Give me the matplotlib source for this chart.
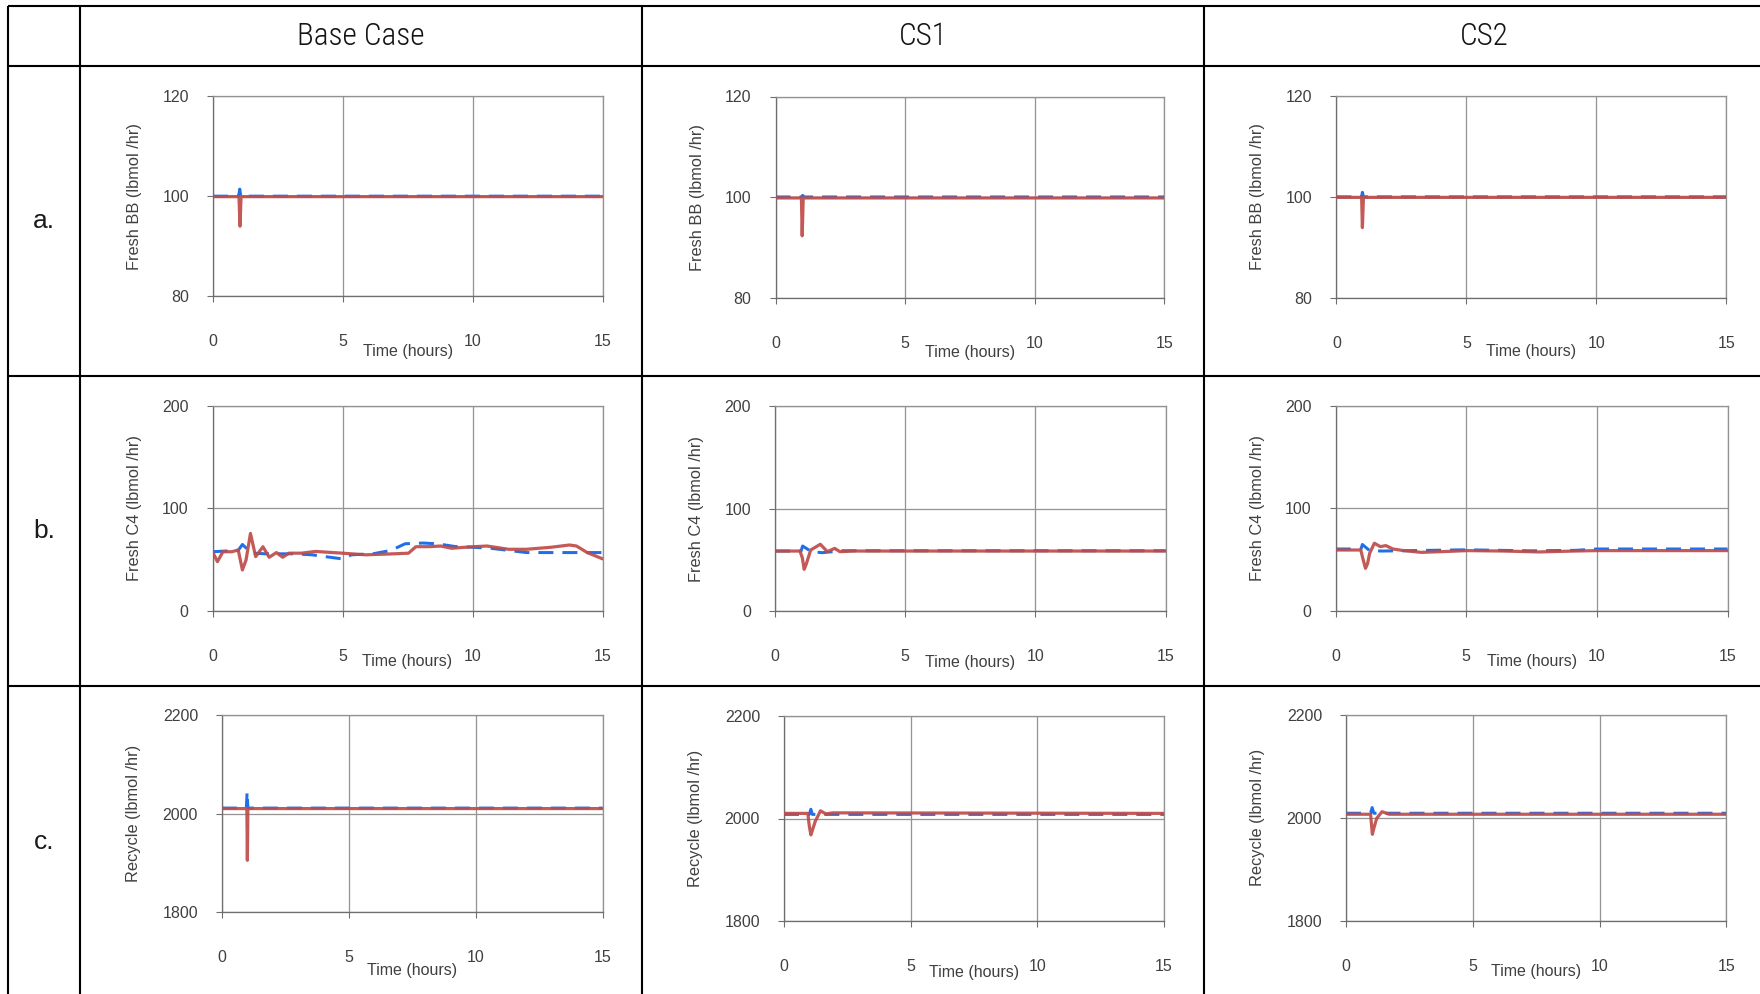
import matplotlib
matplotlib.use("Agg")
import matplotlib.pyplot as plt
from matplotlib import font_manager

W, H, DPI = 1760, 994, 100

# ---------------------------------------------------------------- data
CASES = ["Base Case", "CS1", "CS2"]
ROW_TAGS = ["a.", "b.", "c."]
Y_LABELS = ["Fresh BB (lbmol /hr)", "Fresh C4 (lbmol /hr)", "Recycle (lbmol /hr)"]
Y_TICKS = [[80, 100, 120], [0, 100, 200], [1800, 2000, 2200]]
X_TICKS = [0, 5, 10, 15]
X_LABEL = "Time (hours)"

# a. Fresh BB
BB_BASE_T_RED = [0, 1.00, 1.04, 1.08, 15]
BB_BASE_RED = [99.9, 99.9, 94.0, 99.9, 99.9]
BB_BASE_T_BLUE = [0, 0.99, 1.03, 1.07, 15]
BB_BASE_BLUE = [100.0, 100.0, 101.4, 100.0, 100.0]

BB_CS1_T_RED = [0, 1.00, 1.03, 1.07, 15]
BB_CS1_RED = [99.9, 99.9, 92.4, 99.9, 99.9]
BB_CS1_T_BLUE = [0, 1.00, 1.05, 1.10, 15]
BB_CS1_BLUE = [100.1, 100.1, 100.4, 100.1, 100.1]

BB_CS2_T_RED = [0, 0.97, 1.00, 1.04, 15]
BB_CS2_RED = [99.9, 99.9, 93.9, 99.9, 99.9]
BB_CS2_T_BLUE = [0, 0.97, 1.00, 1.04, 15]
BB_CS2_BLUE = [100.0, 100.0, 100.9, 100.0, 100.0]

# b. Fresh C4
C4_BASE_T_RED = [0, 0.19, 0.40, 0.74, 0.99, 1.15, 1.29, 1.46, 1.66, 1.94, 2.18,
                 2.46, 2.70, 2.94, 3.42, 3.97, 5.0, 5.9, 7.0, 7.54, 7.82, 8.36,
                 8.78, 9.19, 10.0, 10.56, 11.39, 12.07, 13.03, 13.73, 14.0,
                 14.41, 15.0]
C4_BASE_RED = [57.6, 47.9, 57.6, 57.6, 59.3, 39.8, 49.5, 75.5, 52.8, 62.5, 52.2,
               56.8, 52.2, 56.2, 56.2, 57.9, 56.2, 54.6, 55.6, 56.2, 62.5, 62.6,
               63.2, 61.0, 62.5, 63.2, 60.0, 60.0, 62.0, 64.2, 63.2, 56.8, 50.7]
C4_BASE_T_BLUE = [0, 0.99, 1.15, 1.50, 2.05, 3.15, 3.83, 4.52, 5.0, 5.34, 6.17,
                  6.86, 7.41, 8.1, 8.64, 9.33, 10.0, 10.7, 11.39, 12.07, 15]
C4_BASE_BLUE = [57.6, 59.0, 64.7, 56.2, 55.6, 55.6, 54.6, 52.2, 50.6, 54.6, 55.6,
                58.9, 65.4, 66.1, 65.4, 62.7, 62.0, 61.0, 58.9, 56.8, 56.8]

C4_CS1_T_RED = [0, 0.96, 1.05, 1.12, 1.20, 1.37, 1.74, 2.01, 2.29, 2.49, 3.04, 15]
C4_CS1_RED = [58.7, 58.7, 52.0, 40.9, 46.0, 59.7, 65.3, 58.1, 61.3, 58.1, 58.7, 58.7]
C4_CS1_T_BLUE = [0, 1.00, 1.06, 1.40, 1.81, 2.22, 2.60, 15]
C4_CS1_BLUE = [58.7, 58.7, 63.6, 58.1, 57.1, 58.1, 59.0, 59.0]

C4_CS2_T_RED = [0, 0.96, 1.05, 1.14, 1.22, 1.30, 1.48, 1.71, 1.92, 2.19, 2.60,
                3.28, 4.38, 5.0, 6.43, 7.79, 9.16, 10.0, 15]
C4_CS2_RED = [59.3, 59.3, 50.0, 41.4, 46.0, 56.1, 65.9, 62.6, 63.6, 60.3, 58.7,
              57.0, 58.0, 58.7, 58.3, 57.4, 58.3, 58.7, 58.7]
C4_CS2_T_BLUE = [0, 0.97, 1.02, 1.30, 1.78, 5.0, 7.5, 9.2, 10.0, 15]
C4_CS2_BLUE = [60.3, 60.3, 64.7, 58.7, 58.3, 59.5, 58.5, 59.0, 60.3, 60.3]

# c. Recycle
RC_BASE_T_RED = [0, 0.98, 1.00, 1.02, 15]
RC_BASE_RED = [2010, 2010, 1905, 2010, 2010]
RC_BASE_T_BLUE = [0, 0.96, 0.99, 1.02, 15]
RC_BASE_BLUE = [2011, 2011, 2044, 2011, 2011]

RC_CS1_T_RED = [0, 0.94, 1.00, 1.06, 1.14, 1.23, 1.44, 1.65, 1.93, 15]
RC_CS1_RED = [2010, 2010, 1985, 1968, 1980, 1994, 2015, 2009, 2011, 2010]
RC_CS1_T_BLUE = [0, 1.00, 1.06, 1.12, 15]
RC_CS1_BLUE = [2008, 2008, 2018, 2008, 2008]

RC_CS2_T_RED = [0, 0.97, 1.00, 1.04, 1.10, 1.21, 1.42, 1.70, 15]
RC_CS2_RED = [2007, 2007, 1990, 1968, 1980, 1999, 2012, 2007, 2007]
RC_CS2_T_BLUE = [0, 0.97, 1.03, 1.10, 15]
RC_CS2_BLUE = [2009, 2009, 2020, 2009, 2009]

SERIES = [
    [(BB_BASE_T_RED, BB_BASE_RED, BB_BASE_T_BLUE, BB_BASE_BLUE),
     (BB_CS1_T_RED, BB_CS1_RED, BB_CS1_T_BLUE, BB_CS1_BLUE),
     (BB_CS2_T_RED, BB_CS2_RED, BB_CS2_T_BLUE, BB_CS2_BLUE)],
    [(C4_BASE_T_RED, C4_BASE_RED, C4_BASE_T_BLUE, C4_BASE_BLUE),
     (C4_CS1_T_RED, C4_CS1_RED, C4_CS1_T_BLUE, C4_CS1_BLUE),
     (C4_CS2_T_RED, C4_CS2_RED, C4_CS2_T_BLUE, C4_CS2_BLUE)],
    [(RC_BASE_T_RED, RC_BASE_RED, RC_BASE_T_BLUE, RC_BASE_BLUE),
     (RC_CS1_T_RED, RC_CS1_RED, RC_CS1_T_BLUE, RC_CS1_BLUE),
     (RC_CS2_T_RED, RC_CS2_RED, RC_CS2_T_BLUE, RC_CS2_BLUE)],
]

# ---------------------------------------------------------------- layout
# plot-area boxes in pixels: (left, top, right, bottom)
BOXES = [
    [(213, 96, 602.5, 296.3), (775.5, 96.5, 1164.2, 298.4), (1336.4, 96, 1726.4, 297.7)],
    [(212.5, 406, 602.5, 610.7), (775, 406, 1165.7, 611.3), (1335.7, 406, 1727.5, 610.7)],
    [(222, 715, 602.5, 912), (784, 716, 1164, 921), (1346, 715, 1726.4, 920.7)],
]
YLABEL_OFF = [78.5, 78.5, 88.5]      # px left of the plot area
XLABEL_OFF = [[55, 54, 54], [51, 51, 51], [59, 52, 51]]  # px below the plot area

TABLE_X = [8, 80, 642, 1204]
TABLE_Y = [6, 65.5, 376, 686]
TABLE_RIGHT, TABLE_BOTTOM = 1764, 998

RED = "#BF4C49"
BLUE = "#1F6FEA"
GRID = "#959595"
FRAME = "#929292"
AXIS = "#6E6E6E"
TXT = "#404040"

PX = 72.0 / DPI  # points per pixel

AVAILABLE = {f.name for f in font_manager.fontManager.ttflist}


def pick(candidates, fallback):
    for name in candidates:
        if name in AVAILABLE:
            return name
    return fallback


SANS = pick(["Liberation Sans", "Arimo"], "DejaVu Sans")
NARROW = pick(["Roboto Condensed", "Liberation Sans Narrow", "Archivo Narrow",
               "PT Sans Narrow", "Sofia Sans Condensed"], SANS)
HEAD_SIZE = 22.5 if NARROW != SANS else 19.5
HEAD_WEIGHT = "light" if NARROW == "Roboto Condensed" else "normal"
plt.rcParams["font.family"] = [SANS, "DejaVu Sans"]

fig = plt.figure(figsize=(W / DPI, H / DPI), dpi=DPI)
fig.patch.set_facecolor("white")

# table frame
bg = fig.add_axes([0, 0, 1, 1], zorder=0)
bg.set_xlim(0, W)
bg.set_ylim(H, 0)
bg.axis("off")
for x in TABLE_X:
    bg.plot([x, x], [TABLE_Y[0], TABLE_BOTTOM], color="black", lw=2.1 * PX,
            solid_capstyle="butt")
for y in TABLE_Y:
    bg.plot([TABLE_X[0], TABLE_RIGHT], [y, y], color="black", lw=2.1 * PX,
            solid_capstyle="butt")

# header row and row tags
for j, name in enumerate(CASES):
    left = TABLE_X[j + 1]
    right = TABLE_X[j + 2] if j + 2 < len(TABLE_X) else TABLE_RIGHT
    bg.text((left + right) / 2, (TABLE_Y[0] + TABLE_Y[1]) / 2 + 1, name,
            ha="center", va="center", fontsize=HEAD_SIZE, family=NARROW,
            weight=HEAD_WEIGHT, color="#141414")
row_edges = TABLE_Y[1:] + [TABLE_BOTTOM]
for i, tag in enumerate(ROW_TAGS):
    bg.text((TABLE_X[0] + TABLE_X[1]) / 2, (row_edges[i] + row_edges[i + 1]) / 2,
            tag, ha="center", va="center", fontsize=19, color="#1A1A1A")

# chart panels
for i in range(3):
    for j in range(3):
        l, t, r, b = BOXES[i][j]
        ax = fig.add_axes([l / W, 1 - b / H, (r - l) / W, (b - t) / H], zorder=2)
        ax.set_facecolor("white")
        t_red, v_red, t_blue, v_blue = SERIES[i][j]
        ax.plot(t_blue, v_blue, color=BLUE, lw=3.0 * PX, ls=(0, (5, 3)),
                zorder=3)
        ax.plot(t_red, v_red, color=RED, lw=3.2 * PX, zorder=4, alpha=0.92,
                solid_joinstyle="round", solid_capstyle="round")
        ax.set_xlim(X_TICKS[0], X_TICKS[-1])
        ax.set_ylim(Y_TICKS[i][0], Y_TICKS[i][-1])
        ax.set_xticks(X_TICKS)
        ax.set_yticks(Y_TICKS[i])
        ax.grid(True, color=GRID, lw=1.3 * PX)
        ax.set_axisbelow(True)
        for s in ax.spines.values():
            s.set_color(FRAME)
            s.set_linewidth(1.3 * PX)
        ax.spines["left"].set_color(AXIS)
        ax.spines["bottom"].set_color(AXIS)
        ax.tick_params(axis="both", direction="out", length=6 * PX,
                       width=1.1 * PX, color=AXIS, labelsize=11.5,
                       labelcolor=TXT)
        ax.tick_params(axis="y", pad=18 * PX)
        ax.tick_params(axis="x", pad=32 * PX)
        ax.annotate(X_LABEL, xy=(0.5, 0), xycoords="axes fraction",
                    xytext=(0, -XLABEL_OFF[i][j] * PX), textcoords="offset points",
                    ha="center", va="center", fontsize=11.5, color=TXT)
        ax.annotate(Y_LABELS[i], xy=(0, 0.5), xycoords="axes fraction",
                    xytext=(-YLABEL_OFF[i] * PX, 0), textcoords="offset points",
                    ha="center", va="center", rotation=90, fontsize=11.8,
                    color=TXT)

fig.savefig("out.png", dpi=DPI, facecolor="white")
